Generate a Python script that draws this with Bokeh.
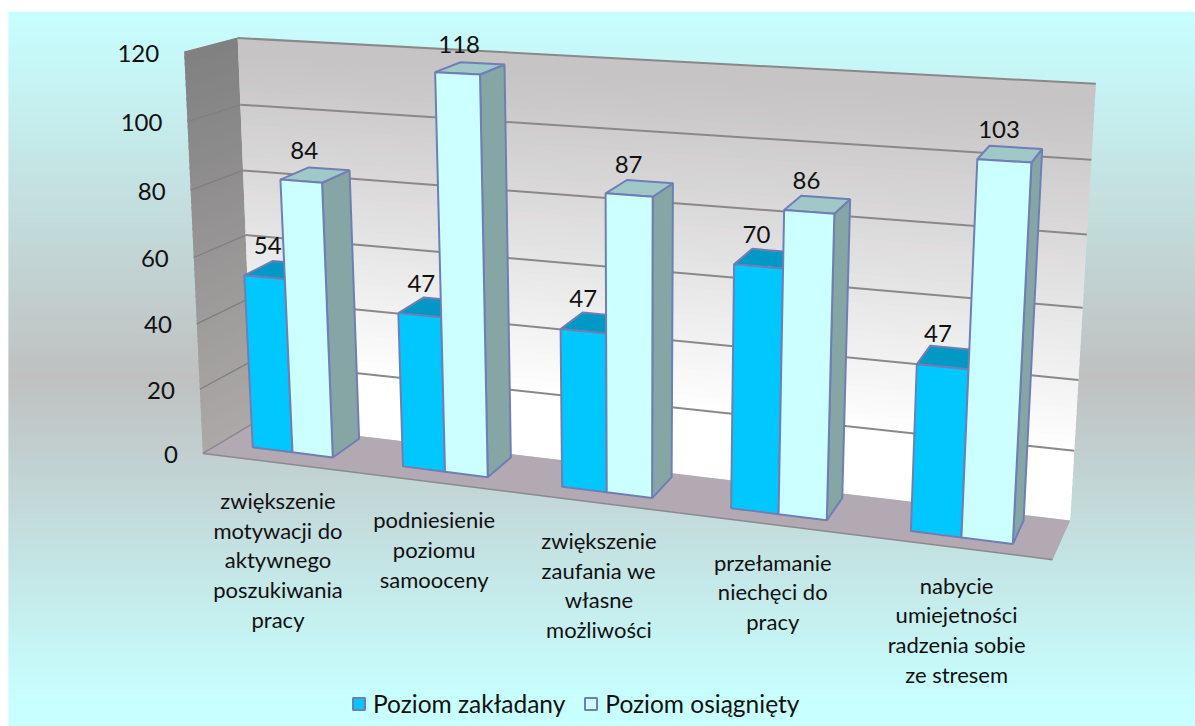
import numpy as np
from bokeh.plotting import figure
from bokeh.models import Range1d, Legend, LegendItem
from bokeh.core.properties import value
from bokeh.embed import file_html
from bokeh.resources import INLINE

# ---- data
categories = [
    "zwiększenie\nmotywacji do\naktywnego\nposzukiwania\npracy",
    "podniesienie\npoziomu\nsamooceny",
    "zwiększenie\nzaufania we\nwłasne\nmożliwości",
    "przełamanie\nniechęci do\npracy",
    "nabycie\numiejetności\nradzenia sobie\nze stresem",
]
poziom_zakladany = [54, 47, 47, 70, 47]
poziom_osiagniety = [84, 118, 87, 86, 103]
y_ticks = [0, 20, 40, 60, 80, 100, 120]
series_names = ["Poziom zakładany", "Poziom osiągnięty"]

Z0, Z1 = 0.28, 0.82
SLOTS = [(0.23, 0.50), (0.50, 0.77)]


# ---- 3-D view: cameras fitted to reference points (cat, value, depth) -> page px
def camera(world, page):
    A, b = [], []
    for (X, Y, Z), (u, v) in zip(world, page):
        A.append([X, Y, Z, 1, 0, 0, 0, 0, -u * X, -u * Y, -u * Z])
        A.append([0, 0, 0, 0, X, Y, Z, 1, -v * X, -v * Y, -v * Z])
        b += [u, v]
    return np.append(np.linalg.lstsq(np.array(A, float), np.array(b, float), rcond=None)[0], 1.0).reshape(3, 4)


P_box = camera(
    [(0, 0, 0), (0, 120, 0), (0, 0, 1), (0, 120, 1), (5, 0, 0), (5, 0, 1), (5, 120, 1), (5, 100, 1)],
    [(205, 451), (181, 52), (250, 425), (240, 37), (1052, 561), (1070, 518), (1095, 83), (1091, 160)])
P_bar = camera(
    [(0.23, 0, Z0), (0.77, 0, Z0), (0.77, 100, Z0), (0.23, 100, Z0), (0.77, 0, Z1), (0.77, 100, Z1),
     (1.77, 0, Z0), (1.5, 118, Z0), (1.77, 118, Z0), (1.77, 118, Z1),
     (3.77, 0, Z0), (3.5, 86, Z0), (3.77, 86, Z1), (3.77, 0, Z1),
     (4.23, 0, Z0), (4.77, 0, Z0), (4.5, 103, Z0), (4.77, 103, Z0), (4.77, 103, Z1), (4.77, 0, Z1)],
    [(251, 447), (332, 457), (319, 128), (240, 124), (359, 439), (345, 117),
     (488, 477), (433, 70), (480, 72), (504, 63),
     (826, 520), (784, 210), (850, 201), (842, 492),
     (910, 532), (1012, 544), (977, 158), (1030, 161), (1042, 151), (1024, 521)])


def proj(x, y, z, P=P_box):
    q = P @ np.array([x, y, z, 1.0])
    return q[0] / q[2], q[1] / q[2]


def poly(pts, P=P_box):
    xy = [proj(*t, P) for t in pts]
    return [a for a, _ in xy], [c for _, c in xy]


def mix(c1, c2, t):
    return "#%02x%02x%02x" % tuple(int(round(a + (d - a) * t)) for a, d in zip(c1, c2))


p = figure(width=1195, height=726, output_backend="svg", toolbar_location=None,
           x_range=Range1d(0, 1195), y_range=Range1d(726, 0), min_border=0,
           x_axis_location=None, y_axis_location=None, outline_line_color=None,
           background_fill_color="white", border_fill_color="white")
p.grid.visible = False

# page background gradient
TOP, MID = (200, 255, 255), (192, 192, 192)
ys = np.arange(11, 726, 2.0)
cols = []
for y in ys:
    t = (375 - y) / 364 if y < 375 else (y - 375) / 325
    cols.append(mix(MID, TOP, min(t, 1)))
p.quad(left=8, right=1195, top=ys, bottom=ys + 3, fill_color=cols, line_color=None)

# left wall and back wall, strips from value 120 to 0
vals = np.arange(0, 120, 2.0)
xs_l, ys_l, c_l, xs_b, ys_b, c_b = [], [], [], [], [], []
for v in vals:
    h = 3 if v < 118 else 2
    a, c = poly([(0, v, 0), (0, v + h, 0), (0, v + h, 1), (0, v, 1)])
    xs_l.append(a); ys_l.append(c)
    c_l.append(mix((172, 168, 168), (128, 128, 128), v / 120))
    a, c = poly([(0, v, 1), (0, v + h, 1), (5, v + h, 1), (5, v, 1)])
    xs_b.append(a); ys_b.append(c)
    c_b.append(mix((255, 255, 255), (198, 196, 196), min(max((v - 18) / 95, 0), 1)))
p.patches(xs_l[::-1], ys_l[::-1], fill_color=c_l[::-1], line_color=None)
p.patches(xs_b, ys_b, fill_color=c_b, line_color=None)

# floor
fx, fy = poly([(0, 0, 0), (5, 0, 0), (5, 0, 1), (0, 0, 1)])
p.patch(fx, fy, fill_color="#b3a9b3", line_color=None)
ex, ey = poly([(0, 0, 1), (0, 0, 0), (5, 0, 0)])
p.line(ex, ey, line_color="#8a8a8e", line_width=1.5)

# grid lines
for v in y_ticks[1:]:
    gx, gy = poly([(0, v, 0), (0, v, 1)])
    p.line(gx, gy, line_color="#807e7e", line_width=1.2)
    gx, gy = poly([(0, v, 1), (5, v, 1)])
    p.line(gx, gy, line_color="#8a8888", line_width=2)

# bars
EDGE = "#6f7fb5"
STYLE = [("#00c8ff", "#0098c4", "#0098c4"), ("#ccffff", "#a0c8c8", "#86a6a6")]
renderers = []
for s, vals_s in enumerate([poziom_zakladany, poziom_osiagniety]):
    front, tops, side = [[], []], [[], []], [[], []]
    x0, x1 = SLOTS[s]
    for i, v in enumerate(vals_s):
        for target, pts in ((side, [(i + x1, 0, Z0), (i + x1, 0, Z1), (i + x1, v, Z1), (i + x1, v, Z0)]),
                            (tops, [(i + x0, v, Z0), (i + x1, v, Z0), (i + x1, v, Z1), (i + x0, v, Z1)]),
                            (front, [(i + x0, 0, Z0), (i + x1, 0, Z0), (i + x1, v, Z0), (i + x0, v, Z0)])):
            a, c = poly(pts, P_bar)
            target[0].append(a); target[1].append(c)
    p.patches(side[0], side[1], fill_color=STYLE[s][2], line_color=EDGE, line_width=2)
    p.patches(tops[0], tops[1], fill_color=STYLE[s][1], line_color=EDGE, line_width=2)
    renderers.append(p.patches(front[0], front[1], fill_color=STYLE[s][0], line_color=EDGE, line_width=2))

FONT = value("Lato")
# tick labels
tx, ty = zip(*[proj(0, v, 0) for v in y_ticks])
p.text(np.array(tx) - 25, np.array(ty) + 1, text=[str(v) for v in y_ticks], text_font=FONT,
       text_font_size="24px", text_align="right", text_baseline="middle", text_color="#111111")

# value labels
for s, vals_s in enumerate([poziom_zakladany, poziom_osiagniety]):
    x0, x1 = SLOTS[s]
    lx, ly = zip(*[proj(i + (x0 + x1) / 2, v, (Z0 + Z1) / 2, P_bar) for i, v in enumerate(vals_s)])
    p.text(np.array(lx) - 11, np.array(ly) - 24, text=[str(v) for v in vals_s], text_font=FONT,
           text_font_size="24px", text_align="center", text_baseline="middle", text_color="#111111")

# category labels
cx, cy = zip(*[proj(i + 0.5, 0, 0) for i in range(5)])
p.text(np.array(cx), np.array(cy) + 24, text=categories, text_font=FONT, text_font_size="22px",
       text_align="center", text_baseline="top", text_line_height=1.1, text_color="#111111")

legend = Legend(items=[LegendItem(label=n, renderers=[r]) for n, r in zip(series_names, renderers)],
                orientation="horizontal", location=(351, 8), border_line_color=None,
                background_fill_alpha=0, glyph_width=15, glyph_height=15, spacing=18,
                label_text_font="Lato", label_text_font_size="24.5px", label_text_color="#111111",
                label_standoff=7, margin=0, padding=6)
p.add_layout(legend, "center")

open("out.html", "w").write(file_html(p, INLINE))
